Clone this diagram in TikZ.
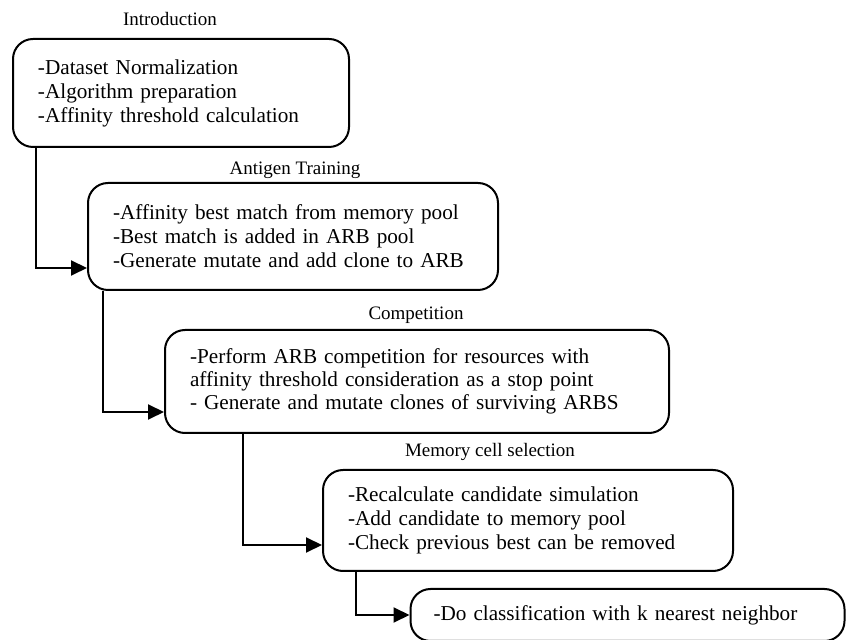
\documentclass[tikz,border=0pt]{standalone}
\usepackage{fontspec}
\setmainfont{Liberation Serif}
\usetikzlibrary{arrows.meta,calc}
\begin{document}
\begin{tikzpicture}[
        x=0.5pt, y=-0.5pt,
        box/.style={draw, line width=1pt, rounded corners=10pt, align=left, inner xsep=12.5pt, inner ysep=0pt, font=\fontsize{10.6}{12}\selectfont},
        title/.style={font=\fontsize{9.5}{11}\selectfont, inner sep=0pt},
        flow/.style={draw, line width=1pt, -{Triangle[length=8pt,width=7.5pt]}},
    ]
	\useasboundingbox (0,0) rectangle (846,640);
	% steps
	\node[box, text width=143pt, minimum height=54pt] (intro) at (181,93) {-Dataset Normalization\\-Algorithm preparation\\-Affinity threshold calculation};
	\node[box, text width=180pt, minimum height=53.5pt] (train) at (293,236.5) {-Affinity best match from memory pool\\-Best match is added in ARB pool\\-Generate mutate and add clone to ARB};
	\node[box, text width=227pt, minimum height=51.5pt, font=\fontsize{10.6}{11.4}\selectfont] (comp) at (417,381.5) {-Perform ARB competition for resources with\\affinity threshold consideration as a stop point\\- Generate and mutate clones of surviving ARBS};
	\node[box, text width=180pt, minimum height=50.5pt] (memory) at (528,520.5) {-Recalculate candidate simulation\\-Add candidate to memory pool\\-Check previous best can be removed};
	\node[box, text width=194pt, inner xsep=11.5pt, minimum height=26pt] (knn) at (627.5,615) {-Do classification with k nearest neighbor};
	% titles
	\node[title] (intro_t) at (170,19) {Introduction};
	\node[title] (train_t) at (295,170) {Antigen Training};
	\node[title] (comp_t) at (416,315) {Competition};
	\node[title] (memory_t) at (490,452) {Memory cell selection};
	% flow
	\draw[flow] ($(intro.south west)+(24,0)$) |- ($(train.west)+(0,31.5)$);
	\draw[flow] ($(train.south west)+(16,0)$) |- ($(comp.west)+(0,30.5)$);
	\draw[flow] ($(comp.south west)+(79,0)$) |- ($(memory.west)+(0,24.5)$);
	\draw[flow] ($(memory.south west)+(34,0)$) |- (knn.west);
\end{tikzpicture}
\end{document}
